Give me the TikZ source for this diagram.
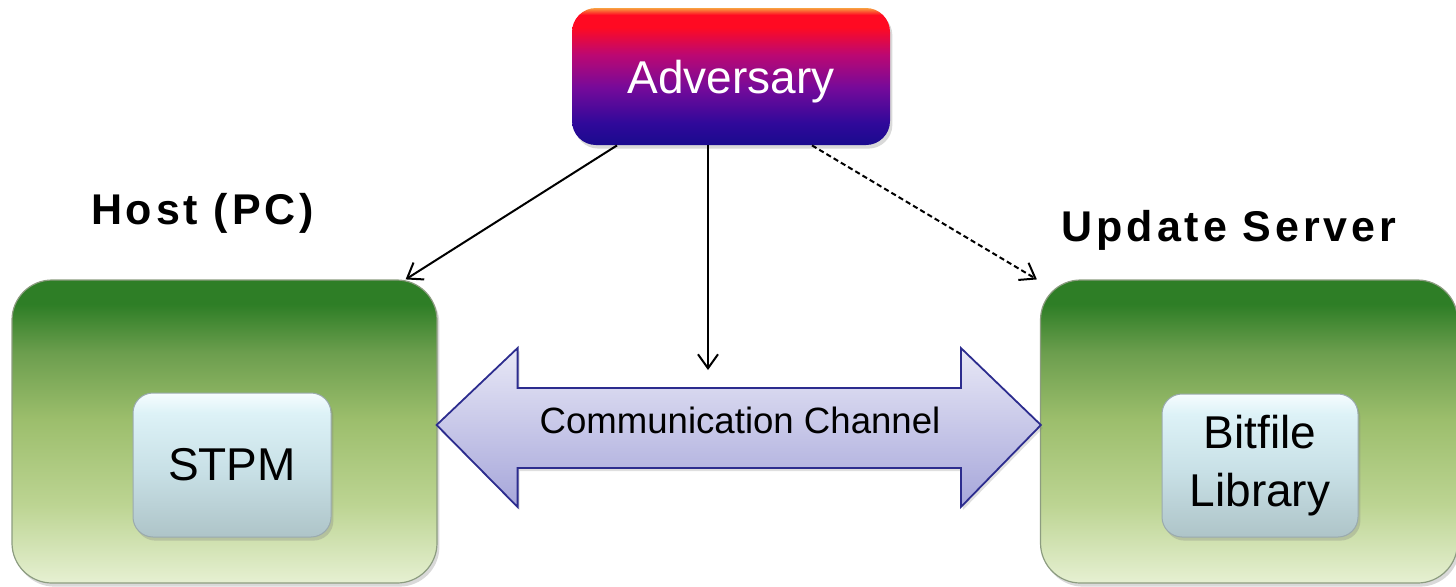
\documentclass[tikz,border=0pt]{standalone}
\usepackage{fontspec}
\setmainfont{Liberation Sans}
\newfontfamily\headfont[LetterSpace=9]{Liberation Sans Bold}
\usetikzlibrary{arrows.meta,calc,shadows}

\definecolor{advA}{HTML}{1A0A8E}
\definecolor{advB}{HTML}{30099A}
\definecolor{advC}{HTML}{760A9A}
\definecolor{advD}{HTML}{BC0872}
\definecolor{advE}{HTML}{FF0A22}
\definecolor{advF}{HTML}{F8A040}
\definecolor{grA}{HTML}{E6F0D2}
\definecolor{grB}{HTML}{BCD492}
\definecolor{grC}{HTML}{9CBE6C}
\definecolor{grD}{HTML}{6C9E4E}
\definecolor{grE}{HTML}{2E7E26}
\definecolor{iceA}{HTML}{AEC4C8}
\definecolor{iceB}{HTML}{C8E0E6}
\definecolor{iceC}{HTML}{DDF2F7}
\definecolor{iceD}{HTML}{F6FCFE}
\definecolor{lavA}{HTML}{A6A6DA}
\definecolor{lavB}{HTML}{E8E8F6}
\definecolor{lavline}{HTML}{2C2C8E}
\definecolor{greenline}{HTML}{8C9C80}
\definecolor{iceline}{HTML}{9AAAAE}

% vertical colour ramps (the path box maps to 25bp..75bp)
\pgfdeclareverticalshading{advshade}{100bp}{
  color(0bp)=(advA); color(25bp)=(advA); color(33bp)=(advB);
  color(46bp)=(advC); color(58bp)=(advD); color(68bp)=(advE);
  color(72.5bp)=(advE); color(75bp)=(advF); color(100bp)=(advF)}
\pgfdeclareverticalshading{greenshade}{100bp}{
  color(0bp)=(grA); color(25bp)=(grA); color(38bp)=(grB);
  color(52bp)=(grC); color(63bp)=(grD); color(71bp)=(grE);
  color(75bp)=(grE); color(100bp)=(grE)}
\pgfdeclareverticalshading{iceshade}{100bp}{
  color(0bp)=(iceA); color(25bp)=(iceA); color(48bp)=(iceB);
  color(68bp)=(iceC); color(75bp)=(iceD); color(100bp)=(iceD)}
\pgfdeclareverticalshading{lavshade}{100bp}{
  color(0bp)=(lavA); color(25bp)=(lavA); color(75bp)=(lavB);
  color(100bp)=(lavB)}

\tikzset{
  softshadow/.style={drop shadow={opacity=0.3, shadow xshift=1.2pt, shadow yshift=-1.8pt}},
  advbox/.style={rounded corners=12pt, shading=advshade, softshadow,
    minimum width=159pt, minimum height=68.5pt, inner sep=0pt},
  sitebox/.style={rounded corners=20pt, shading=greenshade, draw=greenline,
    line width=0.6pt, softshadow, minimum height=151.5pt, inner sep=0pt},
  partbox/.style={rounded corners=10pt, shading=iceshade, draw=iceline,
    line width=0.5pt, softshadow, inner sep=0pt, align=center,
    minimum width=99pt, minimum height=72pt,
    font=\fontsize{23}{29}\selectfont},
  sitelabel/.style={anchor=base, inner sep=0pt, font=\headfont\fontsize{21.5}{25}\selectfont},
  link/.style={line width=1pt, -{Straight Barb[length=7pt,width=10pt,line width=1pt]}},
  guess/.style={link, dash pattern=on 2.6pt off 1.6pt},
  channel/.style={shading=lavshade, draw=lavline, line width=0.9pt,
    drop shadow={opacity=0.25, shadow xshift=1pt, shadow yshift=-1.5pt}},
}

\begin{document}
\begin{tikzpicture}[x=0.5pt,y=-0.5pt]
\useasboundingbox (0,0) rectangle (1456,586);
\clip (0,0) rectangle (1456,586);

% the two end systems
\node[sitebox, minimum width=212.5pt] (host) at (224.5,431.5) {};
\node[sitebox, minimum width=208.5pt] (server) at (1249,431.5) {};

% components inside them
\node[partbox] (stpm) at (232,465) {STPM};
\node[partbox, minimum width=98pt, minimum height=71.5pt] (lib) at (1260,465.5) {Bitfile\\Library};

% labels above the end systems
\node[sitelabel] (hostlbl) at (202.5,224) {Host (PC)};
\node[sitelabel] (serverlbl) at (1229,241) {Update Server};

% the adversary
\node[advbox] (adv) at (731,76.5) {};
\node[text=white, inner sep=0pt, anchor=base, font=\fontsize{23}{27}\selectfont] (advtxt) at (731,93) {Adversary};

% the two-way communication channel between the end systems
\coordinate (tipL) at ($(host.east)+(-1,-6.5)$);
\coordinate (tipR) at ($(server.west)+(1,-6.5)$);
\path[channel]
  (tipL) -- ++(81,-77) -- ++(0,40)
  -- ($(tipR)+(-80,-37)$) -- ++(0,-40) -- (tipR)
  -- ++(-80,82) -- ++(0,-39) -- ($(tipL)+(81,43)$) -- ++(0,39) -- cycle;
\node[inner sep=0pt, font=\fontsize{18.3}{22}\selectfont] (chtxt) at (740,420) {Communication Channel};
\coordinate (tap) at (708,370);

% attacks from the adversary
\draw[link] ([xshift=-57pt]adv.south) -- ([xshift=-16pt]host.north east);
\draw[link] ([xshift=-11.5pt]adv.south) -- (tap);
\draw[guess] ([xshift=40.5pt]adv.south) -- ([xshift=-1.5pt]server.north west);
\end{tikzpicture}
\end{document}
